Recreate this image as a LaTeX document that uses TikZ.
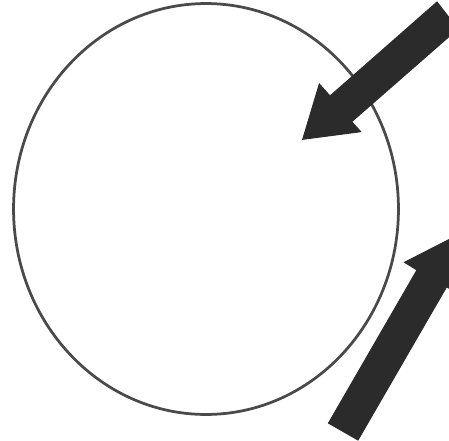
\documentclass[tikz,border=0pt]{standalone}
\usepackage{xcolor}
\usepackage{tikz}
\usetikzlibrary{positioning, shapes.geometric}
\definecolor{rimgray}{HTML}{4A4A4A}
\definecolor{arrowgray}{HTML}{2B2B2B}

\tikzset{
  rim/.style={draw=rimgray, line width=0.055cm, ellipse, inner sep=0pt},
  blockarrow/.style={fill=arrowgray, draw=arrowgray, line width=0.02cm, line join=miter}
}

\begin{document}
\begin{tikzpicture}[x=0.02cm, y=-0.02cm]
    \useasboundingbox (0,0) rectangle (449,440);
    \clip (0,0) rectangle (449,440);
    \node[rim, minimum width=7.7cm, minimum height=8.22cm] (cell) at (206,209) {};

    % arrow from top right, into the ring
    \coordinate (intip) at (302.7,139.3);
    \coordinate (inbarbA) at (319.3,84);
    \coordinate (innotchA) at (330,96);
    \coordinate (intailA) at (437,2);
    \coordinate (intailB) at (457.8,28.9);
    \coordinate (innotchB) at (351.7,121.7);
    \coordinate (inbarbB) at (360.7,131.7);
    \fill[blockarrow] (intip) -- (inbarbA) -- (innotchA) -- (intailA)
      -- (intailB) -- (innotchB) -- (inbarbB) -- cycle;

    % arrow from bottom, away from the ring
    \coordinate (outtip) at (456.2,235.9);
    \coordinate (outbarbA) at (404.5,262.3);
    \coordinate (outnotchA) at (417,270);
    \coordinate (outtailA) at (328.5,423.1);
    \coordinate (outtailB) at (358,440);
    \coordinate (outnotchB) at (446.6,286.8);
    \coordinate (outbarbB) at (459.2,294.1);
    \fill[blockarrow] (outtip) -- (outbarbA) -- (outnotchA) -- (outtailA)
      -- (outtailB) -- (outnotchB) -- (outbarbB) -- cycle;
\end{tikzpicture}
\end{document}
